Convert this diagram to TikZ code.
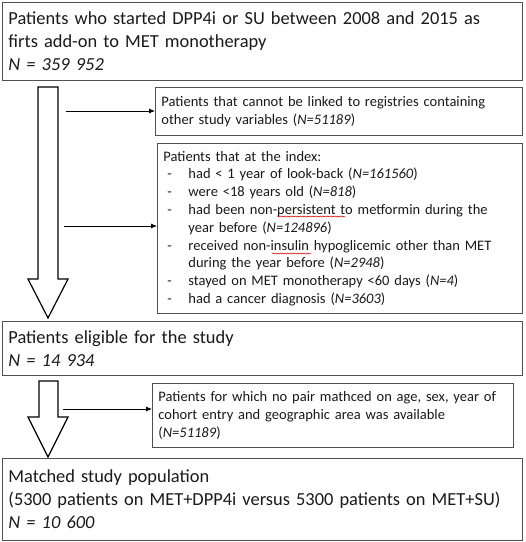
\documentclass[tikz,border=0pt]{standalone}
\usepackage{fontspec}
\setmainfont{Carlito}
\usetikzlibrary{arrows.meta,decorations.pathmorphing}
\definecolor{boxline}{HTML}{505050}
\definecolor{txt}{HTML}{1A1A1A}
\tikzset{
  bigbox/.style={draw=boxline, line width=0.9pt, rectangle, anchor=north west, inner xsep=6pt, inner ysep=0pt, align=left, text=txt, font=\fontsize{18.4}{22.8}\selectfont},
  smallbox/.style={draw=boxline, line width=0.9pt, rectangle, anchor=north west, inner xsep=6pt, inner ysep=0pt, align=left, text=txt, font=\fontsize{14.5}{17.8}\selectfont},
  blockarrow/.style={draw=black, line width=1.2pt, fill=white, line join=miter},
  thinarrow/.style={draw=black, line width=0.8pt, -{Latex[length=6pt,width=5pt]}},
  spell/.style={draw=red!85!black, line width=0.5pt, decorate, decoration={snake, amplitude=0.6pt, segment length=2.5pt}}
}
\newcommand{\itm}[1]{\hangindent=25pt\hangafter=1\noindent\makebox[25pt][l]{\hspace{4pt}-}#1\par}
\begin{document}
\begin{tikzpicture}[x=1pt,y=-1pt]
\useasboundingbox (0,0) rectangle (526,542);
\fill[white] (0,0) rectangle (526,542);

\node[bigbox, minimum width=520pt, minimum height=78pt, text width=508pt] (start) at (2,2)
  {Patients who started DPP4i or SU between 2008 and 2015 as\\ firts add-on to MET monotherapy\\ \textit{N = 359 952}};

\node[smallbox, minimum width=367pt, minimum height=48pt, text width=355pt] (link) at (155,87)
  {Patients that cannot be linked to registries containing\\ other study variables (\textit{N=51189})};

\node[smallbox, minimum width=365pt, minimum height=170pt, text width=353pt] (index) at (157,143)
  {\parbox{353pt}{\setlength{\parskip}{0pt}\noindent Patients that at the index:\par
   \itm{had {\textless} 1 year of look-back (\textit{N=161560})}
   \itm{were {\textless}18 years old (\textit{N=818})}
   \itm{had been non-persistent to metformin during the year before (\textit{N=124896})}
   \itm{received non-insulin hypoglicemic other than MET during the year before (\textit{N=2948})}
   \itm{stayed on MET monotherapy {\textless}60 days (\textit{N=4})}
   \itm{had a cancer diagnosis (\textit{N=3603})}}};

\node[bigbox, minimum width=520pt, minimum height=54pt, text width=508pt] (elig) at (2,321)
  {Patients eligible for the study\\ \textit{N = 14 934}};

\node[smallbox, minimum width=361pt, minimum height=64pt, text width=349pt] (pair) at (152,383)
  {Patients for which no pair mathced on age, sex, year of\\ cohort entry and geographic area was available\\ (\textit{N=51189})};

\node[bigbox, minimum width=520pt, minimum height=82pt, text width=508pt] (final) at (2,458)
  {Matched study population\\ (5300 patients on MET+DPP4i versus 5300 patients on MET+SU)\\ \textit{N = 10 600}};

% block arrows
\draw[blockarrow] (38,87) -- (58,87) -- (58,279) -- (68,279) -- (48,318) -- (28,279) -- (38,279) -- cycle;
\draw[blockarrow] (39,381) -- (58,381) -- (58,417) -- (68,417) -- (48,457) -- (28,417) -- (39,417) -- cycle;

% thin arrows
\coordinate (a1) at (66,111);
\coordinate (a2) at (64,226);
\coordinate (a3) at (63,409);
\draw[thinarrow] (a1) -- (a1 -| link.west);
\draw[thinarrow] (a2) -- (a2 -| index.west);
\draw[thinarrow] (a3) -- (a3 -| pair.west);

% spell-check underlines
\draw[spell] (277,216.5) -- (345,216.5);
\draw[spell] (272,253.5) -- (311,253.5);
\end{tikzpicture}
\end{document}
